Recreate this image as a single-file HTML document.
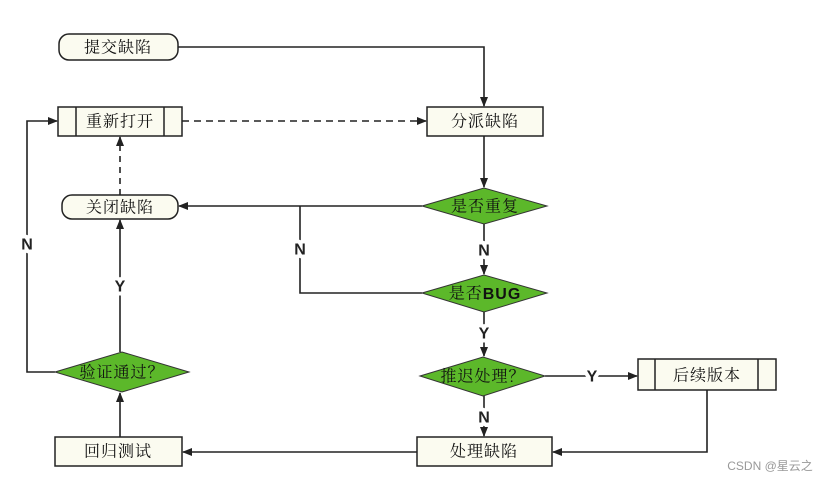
<!DOCTYPE html>
<html><head><meta charset="utf-8"><style>
html,body{margin:0;padding:0;background:#fff;}
svg{display:block}
.t{font-family:"Liberation Serif","Noto Serif CJK SC","Noto Sans CJK SC",serif;font-size:16px;fill:#111;text-anchor:middle;dominant-baseline:central;letter-spacing:1px}
.l{font-family:"Liberation Sans",sans-serif;font-weight:bold;font-size:16px;fill:#222;text-anchor:middle;dominant-baseline:central;stroke:#fff;stroke-width:8px;paint-order:stroke;stroke-linejoin:round}
</style></head><body>
<svg width="836" height="480" viewBox="0 0 836 480" xmlns="http://www.w3.org/2000/svg">
<defs><marker id="a" markerWidth="10" markerHeight="8" refX="9" refY="4" orient="auto" markerUnits="userSpaceOnUse"><path d="M0,0 L10,4 L0,8 z" fill="#222"/></marker></defs>
<g stroke="#222" stroke-width="1.6" fill="none">
<path d="M178,47 H484 V106" marker-end="url(#a)"/>
<path d="M484,136 V187" marker-end="url(#a)"/>
<path d="M422,206 H179" marker-end="url(#a)"/>
<path d="M300,206 V293 H422"/>
<path d="M484,224 V274" marker-end="url(#a)"/>
<path d="M484,312 V356" marker-end="url(#a)"/>
<path d="M545,376 H637" marker-end="url(#a)"/>
<path d="M484,396 V436" marker-end="url(#a)"/>
<path d="M707,390 V452 H553" marker-end="url(#a)"/>
<path d="M417,452 H183" marker-end="url(#a)"/>
<path d="M120,437 V393" marker-end="url(#a)"/>
<path d="M120,352 V220" marker-end="url(#a)"/>
<path d="M55,372 H27 V121 H57" marker-end="url(#a)"/>
<path d="M120,195 V137" stroke-dasharray="6,5" marker-end="url(#a)"/>
<path d="M182,121 H426" stroke-dasharray="7,5" marker-end="url(#a)"/>
</g>
<g stroke="#222" stroke-width="1.5" fill="#fbfbf0">
<rect x="59" y="34" width="119" height="26" rx="10"/>
<rect x="62" y="195" width="116" height="24" rx="10"/>
<rect x="58" y="107" width="124" height="29"/>
<path d="M76,107 V136 M164,107 V136" fill="none"/>
<rect x="427" y="107" width="116" height="29"/>
<rect x="638" y="359" width="138" height="31"/>
<path d="M655,359 V390 M758,359 V390" fill="none"/>
<rect x="417" y="437" width="135" height="29"/>
<rect x="55" y="437" width="127" height="29"/>
</g>
<g fill="#5cb82a" stroke="#333" stroke-width="1">
<polygon points="422,206 484,188 547,206 484,224"/>
<polygon points="422,293 484,275 547,293 484,312"/>
<polygon points="420,376 483,357 545,376 483,396"/>
<polygon points="55,372 122,352 189,372 122,392"/>
</g>
<text class="t" x="118" y="48">提交缺陷</text>
<text class="t" x="120" y="122">重新打开</text>
<text class="t" x="485" y="122">分派缺陷</text>
<text class="t" x="120" y="208">关闭缺陷</text>
<text class="t" x="485" y="207">是否重复</text>
<text class="t" x="485" y="294">是否<tspan font-family="Liberation Sans" font-weight="bold">BUG</tspan></text>
<text class="t" x="483" y="377">推迟处理？</text>
<text class="t" x="707" y="376">后续版本</text>
<text class="t" x="484" y="452">处理缺陷</text>
<text class="t" x="118" y="452">回归测试</text>
<text class="t" x="122" y="373">验证通过？</text>
<text class="l" x="300" y="250">N</text>
<text class="l" x="484" y="251">N</text>
<text class="l" x="484" y="334">Y</text>
<text class="l" x="592" y="377">Y</text>
<text class="l" x="484" y="418">N</text>
<text class="l" x="120" y="287">Y</text>
<text class="l" x="27" y="245">N</text>
<text x="770" y="466" font-family="Liberation Sans,'Noto Sans CJK SC',sans-serif" font-size="12" fill="#999" text-anchor="middle" dominant-baseline="central">CSDN @星云之</text>
</svg>
</body></html>
